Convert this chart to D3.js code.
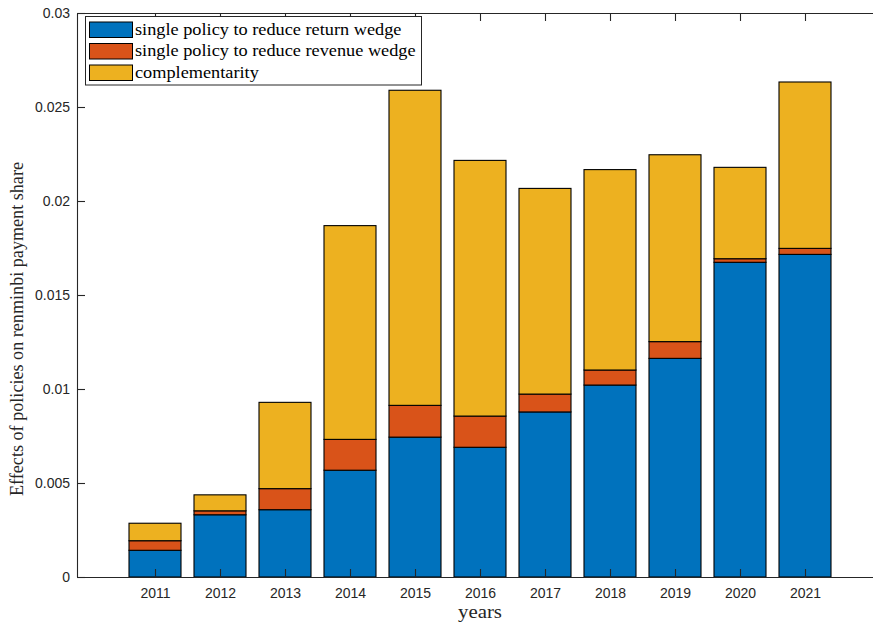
<!DOCTYPE html>
<html><head><meta charset="utf-8">
<script src="https://cdn.jsdelivr.net/npm/d3@7"></script>
<style>body{margin:0;background:#fff}svg{display:block}</style>
</head><body><svg id="c" width="873" height="622"></svg>
<script>
const years = [2011,2012,2013,2014,2015,2016,2017,2018,2019,2020,2021];
const returnWedge  = [0.00142,0.00331,0.00358,0.00568,0.00744,0.00690,0.00878,0.01021,0.01163,0.01674,0.01716];
const revenueWedge = [0.00051,0.00021,0.00112,0.00164,0.00169,0.00166,0.00095,0.00080,0.00089,0.00019,0.00032];
const complementarity = [0.00093,0.00085,0.00459,0.01137,0.01676,0.01360,0.01094,0.01066,0.00994,0.00486,0.00885];
const seriesNames = ["single policy to reduce return wedge","single policy to reduce revenue wedge","complementarity"];
const colors = ["#0072BD","#D95319","#EDB120"];
const yTicks = [0,0.005,0.01,0.015,0.02,0.025,0.03];
const yTickLabels = ["0","0.005","0.01","0.015","0.02","0.025","0.03"];

const svg = d3.select("#c");
const L=77, R=883, T=13, B=577;
const x = d3.scaleLinear().domain([2009.8,2022.2]).range([L,R]);
const y = d3.scaleLinear().domain([0,0.03]).range([B,T]);
const bw = (x(2012)-x(2011))*0.8;

const rows = years.map((yr,i)=>({year:yr,a:returnWedge[i],b:revenueWedge[i],c:complementarity[i]}));
const stack = d3.stack().keys(["a","b","c"])(rows);

const g = svg.append("g");
stack.forEach((layer,k)=>{
  g.selectAll(null).data(layer).enter().append("rect")
    .attr("x",d=>x(d.data.year)-bw/2)
    .attr("y",d=>y(d[1]))
    .attr("width",bw)
    .attr("height",d=>y(d[0])-y(d[1]))
    .attr("fill",colors[k]).attr("stroke","#000").attr("stroke-width",1.1);
});

const axCol="#262626";
const fmtY = (d,i)=>yTickLabels[i];
const ax = svg.append("g");
const xb = ax.append("g").attr("transform",`translate(0,${B})`)
  .call(d3.axisBottom(x).tickValues(years).tickFormat(d3.format("d")).tickSizeInner(-8).tickSizeOuter(0).tickPadding(11));
const xt = ax.append("g").attr("transform",`translate(0,${T})`)
  .call(d3.axisTop(x).tickValues(years).tickFormat("").tickSizeInner(-8).tickSizeOuter(0));
const yl = ax.append("g").attr("transform",`translate(${L},0)`)
  .call(d3.axisLeft(y).tickValues(yTicks).tickFormat(fmtY).tickSizeInner(-8).tickSizeOuter(0).tickPadding(7));
[xb,xt,yl].forEach(s=>{
  s.select(".domain").attr("stroke",axCol).attr("stroke-width",1.1);
  s.selectAll(".tick line").attr("stroke",axCol).attr("stroke-width",1.1);
  s.selectAll(".tick text").attr("fill",axCol).attr("font-size",14).attr("font-family","Liberation Sans, Arial, sans-serif");
});

svg.append("text").attr("x",480).attr("y",618).attr("text-anchor","middle")
  .attr("font-family","Liberation Serif, serif").attr("font-size",18.5).attr("fill",axCol)
  .attr("textLength",44).attr("lengthAdjust","spacingAndGlyphs").text("years");
svg.append("text").attr("transform",`translate(23,${(B+T)/2+34}) rotate(-90)`).attr("text-anchor","middle")
  .attr("font-family","Liberation Serif, serif").attr("font-size",18).attr("fill",axCol)
  .attr("textLength",334).attr("lengthAdjust","spacingAndGlyphs")
  .text("Effects of policies on renminbi payment share");

const lg = svg.append("g");
lg.append("rect").attr("x",85.5).attr("y",16.5).attr("width",336).attr("height",68.5)
  .attr("fill","#fff").attr("stroke",axCol).attr("stroke-width",1);
seriesNames.forEach((n,i)=>{
  const yy = 22 + i*21.5;
  lg.append("rect").attr("x",89.5).attr("y",yy).attr("width",43).attr("height",15.5)
    .attr("fill",colors[i]).attr("stroke","#000").attr("stroke-width",1);
  const t = lg.append("text").attr("x",135).attr("y",yy+12.5)
    .attr("font-family","Liberation Serif, serif").attr("font-size",17).attr("fill","#000")
    .text(n);
  const w = t.node().getComputedTextLength();
  t.attr("textLength",w*1.075).attr("lengthAdjust","spacingAndGlyphs");
});
</script></body></html>
